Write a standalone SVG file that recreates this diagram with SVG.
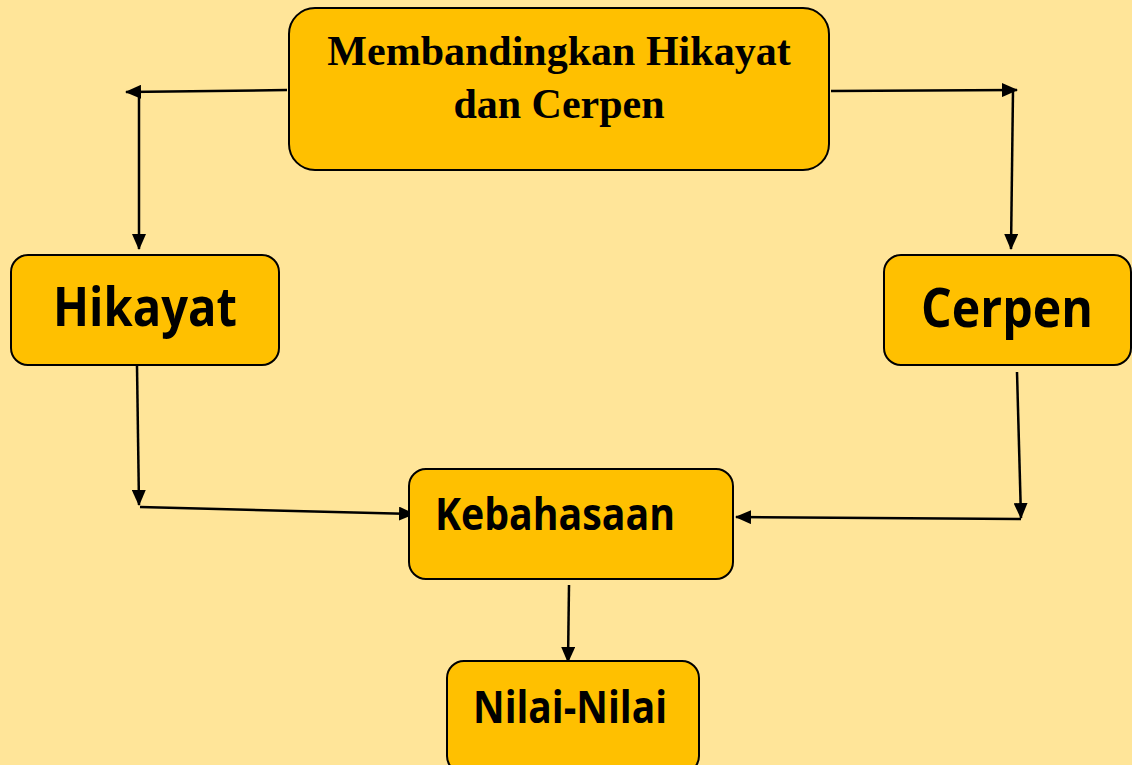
<svg xmlns="http://www.w3.org/2000/svg" width="1132" height="765" viewBox="0 0 1132 765">
<style>
.node{fill:#FFC000;stroke:#000;stroke-width:2}
.lbl{font-family:"Open Sans","Noto Sans","Liberation Sans",sans-serif;font-weight:bold;fill:#000}
.ttl{font-family:"Liberation Serif","Times New Roman",serif;font-weight:bold;font-size:42px;fill:#000;text-anchor:middle}
.ln{fill:none;stroke:#000;stroke-width:2.5}
</style>
<defs>
<marker id="ah" viewBox="0 0 16 14" refX="15" refY="7" markerWidth="16" markerHeight="14" markerUnits="userSpaceOnUse" orient="auto">
<path d="M0,0 L16,7 L0,14 Z" fill="#000"/>
</marker>
</defs>
<rect width="1132" height="765" fill="#FFE599"/>
<g id="connectors">
<line class="ln" x1="287" y1="90" x2="126" y2="92" marker-end="url(#ah)"/>
<line class="ln" x1="139" y1="92" x2="139" y2="249" marker-end="url(#ah)"/>
<line class="ln" x1="831" y1="91" x2="1017" y2="90" marker-end="url(#ah)"/>
<line class="ln" x1="1013" y1="90" x2="1011" y2="249" marker-end="url(#ah)"/>
<line class="ln" x1="137" y1="366" x2="139" y2="505" marker-end="url(#ah)"/>
<line class="ln" x1="140" y1="507" x2="414" y2="514" marker-end="url(#ah)"/>
<line class="ln" x1="1017" y1="372" x2="1021" y2="518" marker-end="url(#ah)"/>
<line class="ln" x1="1021" y1="519" x2="736" y2="517" marker-end="url(#ah)"/>
<line class="ln" x1="569" y1="585" x2="568" y2="662" marker-end="url(#ah)"/>
</g>
<g id="node-top">
<rect class="node" x="289" y="8" width="540" height="162" rx="26"/>
<text class="ttl" x="559" y="65">Membandingkan Hikayat</text>
<text class="ttl" x="559" y="118">dan Cerpen</text>
</g>
<g id="node-hikayat">
<rect class="node" x="11" y="255" width="268" height="110" rx="17"/>
<text class="lbl" x="53" y="326" font-size="54" textLength="184" lengthAdjust="spacingAndGlyphs">Hikayat</text>
</g>
<g id="node-cerpen">
<rect class="node" x="884" y="255" width="247" height="110" rx="17"/>
<text class="lbl" x="921" y="327" font-size="54" textLength="172" lengthAdjust="spacingAndGlyphs">Cerpen</text>
</g>
<g id="node-kebahasaan">
<rect class="node" x="409" y="469" width="324" height="110" rx="17"/>
<text class="lbl" x="435" y="530" font-size="44" textLength="240" lengthAdjust="spacingAndGlyphs">Kebahasaan</text>
</g>
<g id="node-nilai">
<rect class="node" x="447" y="661" width="252" height="112" rx="17"/>
<text class="lbl" x="473" y="723" font-size="44" textLength="194" lengthAdjust="spacingAndGlyphs">Nilai-Nilai</text>
</g>
</svg>
